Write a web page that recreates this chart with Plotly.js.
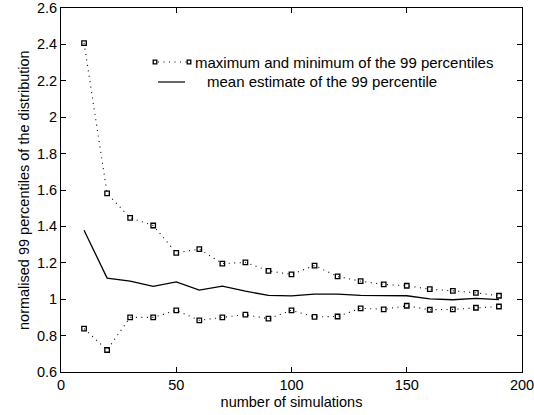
<!DOCTYPE html>
<html>
<head>
<meta charset="utf-8">
<script src="https://cdn.plot.ly/plotly-3.0.1.min.js"></script>
<style>html,body{margin:0;padding:0;background:#fff;}#chart{width:534px;height:415px;}</style>
</head>
<body>
<div id="chart"></div>
<script>
const simulations = [10,20,30,40,50,60,70,80,90,100,110,120,130,140,150,160,170,180,190];
const maxPercentile = [2.407,1.582,1.447,1.405,1.255,1.275,1.196,1.202,1.156,1.136,1.185,1.125,1.099,1.081,1.074,1.055,1.046,1.035,1.019];
const minPercentile = [0.838,0.721,0.900,0.900,0.939,0.884,0.900,0.915,0.893,0.939,0.903,0.905,0.950,0.944,0.964,0.942,0.944,0.953,0.960];
const meanPercentile = [1.379,1.116,1.099,1.070,1.095,1.050,1.072,1.044,1.021,1.018,1.028,1.028,1.021,1.018,1.019,1.002,0.997,1.004,0.998];
const legendLabels = ['maximum and minimum of the 99 percentiles','mean estimate of the 99 percentile'];
const xTitle = 'number of simulations';
const yTitle = 'normalised 99 percentiles of the distribution';

const font = {family: 'Liberation Sans, Arial, sans-serif', size: 14.5, color: '#000'};
const legFont = {family: 'Liberation Sans, Arial, sans-serif', size: 15, color: '#000'};
const dotDash = '1px,4.5px';
const dotStyle = {
  mode: 'lines+markers',
  line: {color: '#000', width: 1.1, dash: dotDash},
  marker: {symbol: 'square-open', size: 4.5, color: '#000', line: {width: 1.3, color: '#000'}},
  showlegend: false, hoverinfo: 'skip'
};
const traces = [
  Object.assign({x: simulations, y: maxPercentile}, dotStyle),
  Object.assign({x: simulations, y: minPercentile}, dotStyle),
  {x: simulations, y: meanPercentile, mode: 'lines', line: {color: '#000', width: 1.3}, showlegend: false, hoverinfo: 'skip'}
];

const axisCommon = {
  showline: true, linecolor: '#000', linewidth: 1, mirror: 'ticks',
  ticks: 'inside', ticklen: 5, tickcolor: '#000', tickwidth: 1,
  showgrid: false, zeroline: false, tickfont: font, ticklabeloverflow: 'allow'
};

// legend and y title placed in pixel-based paper coords
const W = 534, H = 415, L = 61, R = 12, T = 8, B = 43;
const pw = W - L - R, ph = H - T - B;
const px = v => (v - L) / pw;
const py = v => 1 - (v - T) / ph;
const sq = (cx, cy) => ({type: 'rect', xref: 'paper', yref: 'paper',
  x0: px(cx - 1.8), x1: px(cx + 1.8), y0: py(cy + 1.8), y1: py(cy - 1.8),
  line: {color: '#000', width: 1.3}});

const layout = {
  width: W, height: H,
  margin: {l: L, r: R, t: T, b: B, autoexpand: false},
  paper_bgcolor: '#fff', plot_bgcolor: '#fff',
  font: font,
  showlegend: false,
  xaxis: Object.assign({}, axisCommon, {range: [0, 200], tickvals: [0,50,100,150,200],
    ticktext: ['0','50','100','150','200'],
    title: {text: xTitle, font: font, standoff: 4}}),
  yaxis: Object.assign({}, axisCommon, {range: [0.6, 2.6], tickvals: [0.6,0.8,1,1.2,1.4,1.6,1.8,2,2.2,2.4,2.6],
    ticktext: ['0.6','0.8','1','1.2','1.4','1.6','1.8','2','2.2','2.4','2.6']}),
  shapes: [
    sq(155, 62), sq(189, 62),
    {type: 'line', xref: 'paper', yref: 'paper', x0: px(158), x1: px(187), y0: py(62), y1: py(62),
     line: {color: '#000', width: 1.1, dash: dotDash}},
    {type: 'line', xref: 'paper', yref: 'paper', x0: px(158), x1: px(185), y0: py(82), y1: py(82),
     line: {color: '#000', width: 1.2}}
  ],
  annotations: [
    {xref: 'paper', yref: 'paper', x: px(193), y: py(62), xanchor: 'left', yanchor: 'middle',
     text: legendLabels[0], showarrow: false, font: legFont},
    {xref: 'paper', yref: 'paper', x: px(205), y: py(82), xanchor: 'left', yanchor: 'middle',
     text: legendLabels[1], showarrow: false, font: legFont},
    {xref: 'paper', yref: 'paper', x: px(24), y: py(190), xanchor: 'center', yanchor: 'middle',
     text: yTitle, textangle: -90, showarrow: false, font: font}
  ]
};

Plotly.newPlot('chart', traces, layout, {staticPlot: true, displayModeBar: false});
</script>
</body>
</html>
